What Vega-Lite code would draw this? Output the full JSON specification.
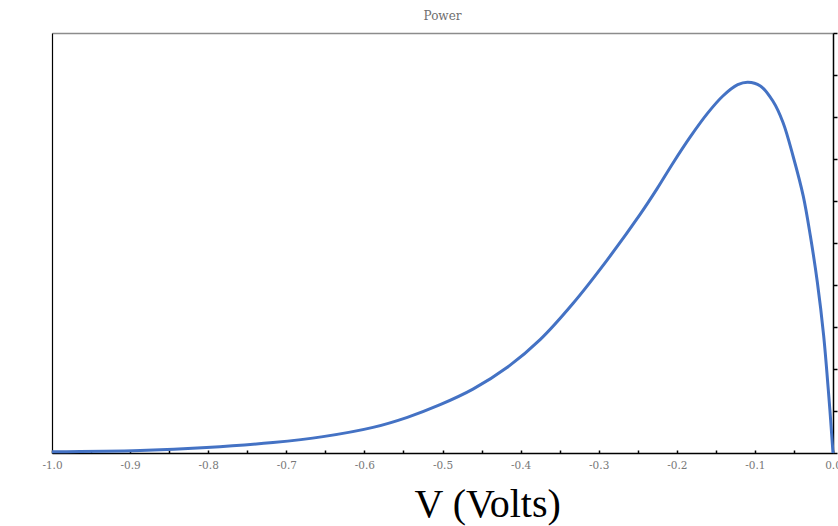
{
  "$schema": "https://vega.github.io/schema/vega-lite/v6.json",
  "width": 781,
  "height": 420,
  "autosize": {"type": "none"},
  "padding": {"left": 52, "top": 33, "right": 5, "bottom": 73},
  "background": "white",
  "config": {"view": {"stroke": null}},
  "title": {"text": "Power", "font": "DejaVu Serif", "fontSize": 12, "fontWeight": "normal", "color": "#6e6e6e", "anchor": "middle", "offset": 9},
  "data": {"values": [
    {"V": -1.0, "P": 0.03},
    {"V": -0.887, "P": 0.06},
    {"V": -0.802, "P": 0.13},
    {"V": -0.717, "P": 0.25},
    {"V": -0.653, "P": 0.39},
    {"V": -0.589, "P": 0.61},
    {"V": -0.545, "P": 0.85},
    {"V": -0.503, "P": 1.15},
    {"V": -0.461, "P": 1.52},
    {"V": -0.417, "P": 2.04},
    {"V": -0.375, "P": 2.7},
    {"V": -0.333, "P": 3.56},
    {"V": -0.289, "P": 4.6},
    {"V": -0.247, "P": 5.68},
    {"V": -0.225, "P": 6.3},
    {"V": -0.205, "P": 6.9},
    {"V": -0.183, "P": 7.52},
    {"V": -0.161, "P": 8.08},
    {"V": -0.141, "P": 8.5},
    {"V": -0.122, "P": 8.77},
    {"V": -0.109, "P": 8.83},
    {"V": -0.093, "P": 8.74},
    {"V": -0.077, "P": 8.38},
    {"V": -0.064, "P": 7.87},
    {"V": -0.051, "P": 7.06},
    {"V": -0.038, "P": 6.11},
    {"V": -0.029, "P": 5.17},
    {"V": -0.02, "P": 4.06},
    {"V": -0.012, "P": 2.8},
    {"V": -0.006, "P": 1.5},
    {"V": -0.003, "P": 0.78},
    {"V": 0.0, "P": 0.0}
  ]},
  "resolve": {"axis": {"x": "independent", "y": "independent"}},
  "layer": [
    {
      "mark": {"type": "line", "color": "#4472C4", "strokeWidth": 3, "interpolate": "catmull-rom", "clip": false},
      "encoding": {
        "x": {"field": "V", "type": "quantitative", "scale": {"domain": [-1, 0], "nice": false, "zero": false},
          "axis": {"orient": "bottom", "title": "V (Volts)", "titleFont": "Liberation Serif", "titleFontSize": 40, "titleFontWeight": "normal", "titleColor": "#000000",
            "titleAnchor": "start", "titleX": 362, "titleY": 63, "titleBaseline": "alphabetic",
            "values": [-1, -0.95, -0.9, -0.85, -0.8, -0.75, -0.7, -0.65, -0.6, -0.55, -0.5, -0.45, -0.4, -0.35, -0.3, -0.25, -0.2, -0.15, -0.1, -0.05, 0],
            "labelExpr": "abs(datum.value*10 - round(datum.value*10)) < 0.001 ? replace(format(datum.value, '.1f'), '\u2212', '-') : ''",
            "labelFont": "DejaVu Serif", "labelFontSize": 10.5, "labelColor": "#777777", "labelPadding": 10, "labelFlush": false, "labelOverlap": false,
            "domainColor": "#000000", "domainWidth": 1.5, "tickColor": "#000000", "tickSize": -3, "tickWidth": 1.5, "grid": false}},
        "y": {"field": "P", "type": "quantitative", "scale": {"domain": [0, 10], "nice": false},
          "axis": {"orient": "right", "title": null, "labels": false, "values": [0,1,2,3,4,5,6,7,8,9,10],
            "domainColor": "#000000", "domainWidth": 1.5, "tickColor": "#000000", "tickSize": 4, "tickWidth": 1.5, "grid": false}}
      }
    },
    {
      "mark": {"type": "line", "strokeOpacity": 0},
      "encoding": {
        "x": {"field": "V", "type": "quantitative", "scale": {"domain": [-1, 0], "nice": false, "zero": false},
          "axis": {"orient": "top", "title": null, "labels": false, "ticks": false, "domainColor": "#8c8c8c", "domainWidth": 1.5, "grid": false}},
        "y": {"field": "P", "type": "quantitative", "scale": {"domain": [0, 10], "nice": false},
          "axis": {"orient": "left", "title": null, "labels": false, "ticks": false, "domainColor": "#000000", "domainWidth": 1.2, "grid": false}}
      }
    }
  ]
}
